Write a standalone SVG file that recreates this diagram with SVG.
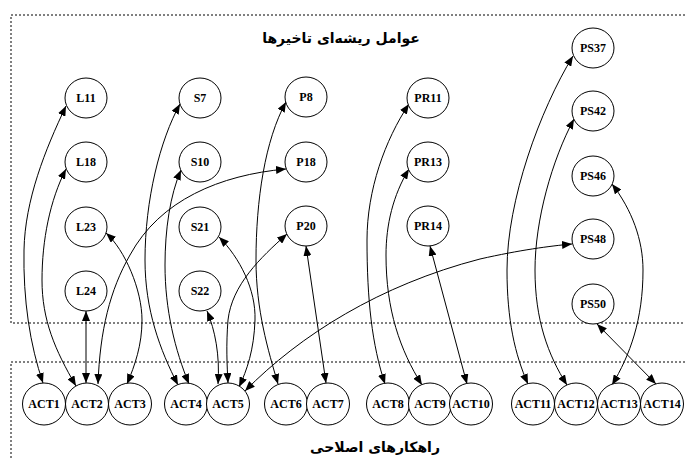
<svg xmlns="http://www.w3.org/2000/svg" width="685" height="459" viewBox="0 0 685 459">
<style>
.cl{fill:none;stroke:#000;stroke-width:1;stroke-dasharray:2 2}
.nd ellipse{fill:#fff;stroke:#000;stroke-width:1}
.nd text{font-family:"Liberation Serif","Times New Roman",serif;font-weight:bold;font-size:12px;text-anchor:middle;dominant-baseline:central}
.ttl{font-family:"DejaVu Sans",sans-serif;font-weight:bold;font-size:14px;text-anchor:middle}
#edges path{fill:none;stroke:#000;stroke-width:1;marker-start:url(#ah);marker-end:url(#ah)}
</style>
<defs>
<marker id="ah" viewBox="0 0 10 8" refX="10" refY="4" markerWidth="10" markerHeight="8" markerUnits="userSpaceOnUse" orient="auto-start-reverse">
<path d="M0,0 L10,4 L0,8 z" fill="#000"/>
</marker>
</defs>
<rect width="685" height="459" fill="#fff"/>
<rect class="cl" x="11" y="15" width="700" height="308"/>
<rect class="cl" x="11" y="362" width="700" height="120"/>
<text class="ttl" x="341" y="43" direction="rtl">عوامل ریشه‌ای تاخیرها</text>
<text class="ttl" x="375" y="452" direction="rtl">راهکارهای اصلاحی</text>
<g id="edges">
<path d="M66,106 C45,150 25,200 24,250 C23,300 30,345 43,383"/>
<path d="M66,169 C50,200 42,240 42,280 C42,320 55,350 76,386"/>
<path d="M106,233 C125,250 142,290 142,320 C142,345 135,365 127,384"/>
<path d="M86,311 L86,383"/>
<path d="M286,169 C220,175 160,200 130,255 C110,290 100,330 98,384"/>
<path d="M180,104 C160,140 145,200 145,260 C145,310 160,350 178,385"/>
<path d="M181,170 C170,195 165,230 165,265 C165,310 175,350 189,384"/>
<path d="M219,237 C240,258 256,290 255,320 C254,350 247,370 239,387"/>
<path d="M207,311 C215,330 220,355 218,384"/>
<path d="M286,102 C265,140 256,200 256,260 C256,310 268,350 278,384"/>
<path d="M287,234 C260,258 232,285 228,320 C226,345 227,365 228,383"/>
<path d="M306,246 L326,383"/>
<path d="M409,104 C385,140 367,190 367,240 C367,300 372,345 385,384"/>
<path d="M409,169 C393,195 386,225 386,255 C386,310 400,350 422,385"/>
<path d="M430,246 L467,384"/>
<path d="M245,391 C300,335 380,285 480,259 C520,250 550,246 572,244"/>
<path d="M573,56 C540,110 507,200 507,270 C507,320 515,355 528,384"/>
<path d="M574,119 C552,160 535,220 535,270 C535,320 548,355 567,385"/>
<path d="M612,184 C632,210 643,240 643,270 C643,320 630,355 612,385"/>
<path d="M597,324 L656,384"/>
</g>
<g id="L11" class="nd"><ellipse cx="86" cy="98" rx="21" ry="20"/><text x="86" y="98">L11</text></g>
<g id="L18" class="nd"><ellipse cx="86" cy="162" rx="21" ry="20"/><text x="86" y="162">L18</text></g>
<g id="L23" class="nd"><ellipse cx="86" cy="227" rx="21" ry="20"/><text x="86" y="227">L23</text></g>
<g id="L24" class="nd"><ellipse cx="86" cy="291" rx="21" ry="20"/><text x="86" y="291">L24</text></g>
<g id="S7" class="nd"><ellipse cx="200" cy="98" rx="21" ry="20"/><text x="200" y="98">S7</text></g>
<g id="S10" class="nd"><ellipse cx="200" cy="162" rx="21" ry="20"/><text x="200" y="162">S10</text></g>
<g id="S21" class="nd"><ellipse cx="200" cy="227" rx="21" ry="20"/><text x="200" y="227">S21</text></g>
<g id="S22" class="nd"><ellipse cx="200" cy="291" rx="21" ry="20"/><text x="200" y="291">S22</text></g>
<g id="P8" class="nd"><ellipse cx="306" cy="97" rx="21" ry="20"/><text x="306" y="97">P8</text></g>
<g id="P18" class="nd"><ellipse cx="306" cy="162" rx="21" ry="20"/><text x="306" y="162">P18</text></g>
<g id="P20" class="nd"><ellipse cx="306" cy="226" rx="21" ry="20"/><text x="306" y="226">P20</text></g>
<g id="PR11" class="nd"><ellipse cx="428" cy="98" rx="21" ry="20"/><text x="428" y="98">PR11</text></g>
<g id="PR13" class="nd"><ellipse cx="428" cy="162" rx="21" ry="20"/><text x="428" y="162">PR13</text></g>
<g id="PR14" class="nd"><ellipse cx="428" cy="226" rx="21" ry="20"/><text x="428" y="226">PR14</text></g>
<g id="PS37" class="nd"><ellipse cx="593" cy="48" rx="21" ry="20"/><text x="593" y="48">PS37</text></g>
<g id="PS42" class="nd"><ellipse cx="593" cy="111" rx="21" ry="20"/><text x="593" y="111">PS42</text></g>
<g id="PS46" class="nd"><ellipse cx="593" cy="176" rx="21" ry="20"/><text x="593" y="176">PS46</text></g>
<g id="PS48" class="nd"><ellipse cx="593" cy="239" rx="21" ry="20"/><text x="593" y="239">PS48</text></g>
<g id="PS50" class="nd"><ellipse cx="593" cy="304" rx="21" ry="20"/><text x="593" y="304">PS50</text></g>
<g id="ACT1" class="nd"><ellipse cx="44" cy="404" rx="21.5" ry="21"/><text x="44" y="404">ACT1</text></g>
<g id="ACT2" class="nd"><ellipse cx="87" cy="404" rx="21.5" ry="21"/><text x="87" y="404">ACT2</text></g>
<g id="ACT3" class="nd"><ellipse cx="130" cy="404" rx="21.5" ry="21"/><text x="130" y="404">ACT3</text></g>
<g id="ACT4" class="nd"><ellipse cx="186" cy="404" rx="21.5" ry="21"/><text x="186" y="404">ACT4</text></g>
<g id="ACT5" class="nd"><ellipse cx="228" cy="404" rx="21.5" ry="21"/><text x="228" y="404">ACT5</text></g>
<g id="ACT6" class="nd"><ellipse cx="286" cy="404" rx="21.5" ry="21"/><text x="286" y="404">ACT6</text></g>
<g id="ACT7" class="nd"><ellipse cx="328" cy="404" rx="21.5" ry="21"/><text x="328" y="404">ACT7</text></g>
<g id="ACT8" class="nd"><ellipse cx="388" cy="404" rx="21.5" ry="21"/><text x="388" y="404">ACT8</text></g>
<g id="ACT9" class="nd"><ellipse cx="430" cy="404" rx="21.5" ry="21"/><text x="430" y="404">ACT9</text></g>
<g id="ACT10" class="nd"><ellipse cx="471" cy="404" rx="21.5" ry="21"/><text x="471" y="404">ACT10</text></g>
<g id="ACT11" class="nd"><ellipse cx="533" cy="404" rx="21.5" ry="21"/><text x="533" y="404">ACT11</text></g>
<g id="ACT12" class="nd"><ellipse cx="576" cy="404" rx="21.5" ry="21"/><text x="576" y="404">ACT12</text></g>
<g id="ACT13" class="nd"><ellipse cx="619" cy="404" rx="21.5" ry="21"/><text x="619" y="404">ACT13</text></g>
<g id="ACT14" class="nd"><ellipse cx="662" cy="404" rx="21.5" ry="21"/><text x="662" y="404">ACT14</text></g>
</svg>
